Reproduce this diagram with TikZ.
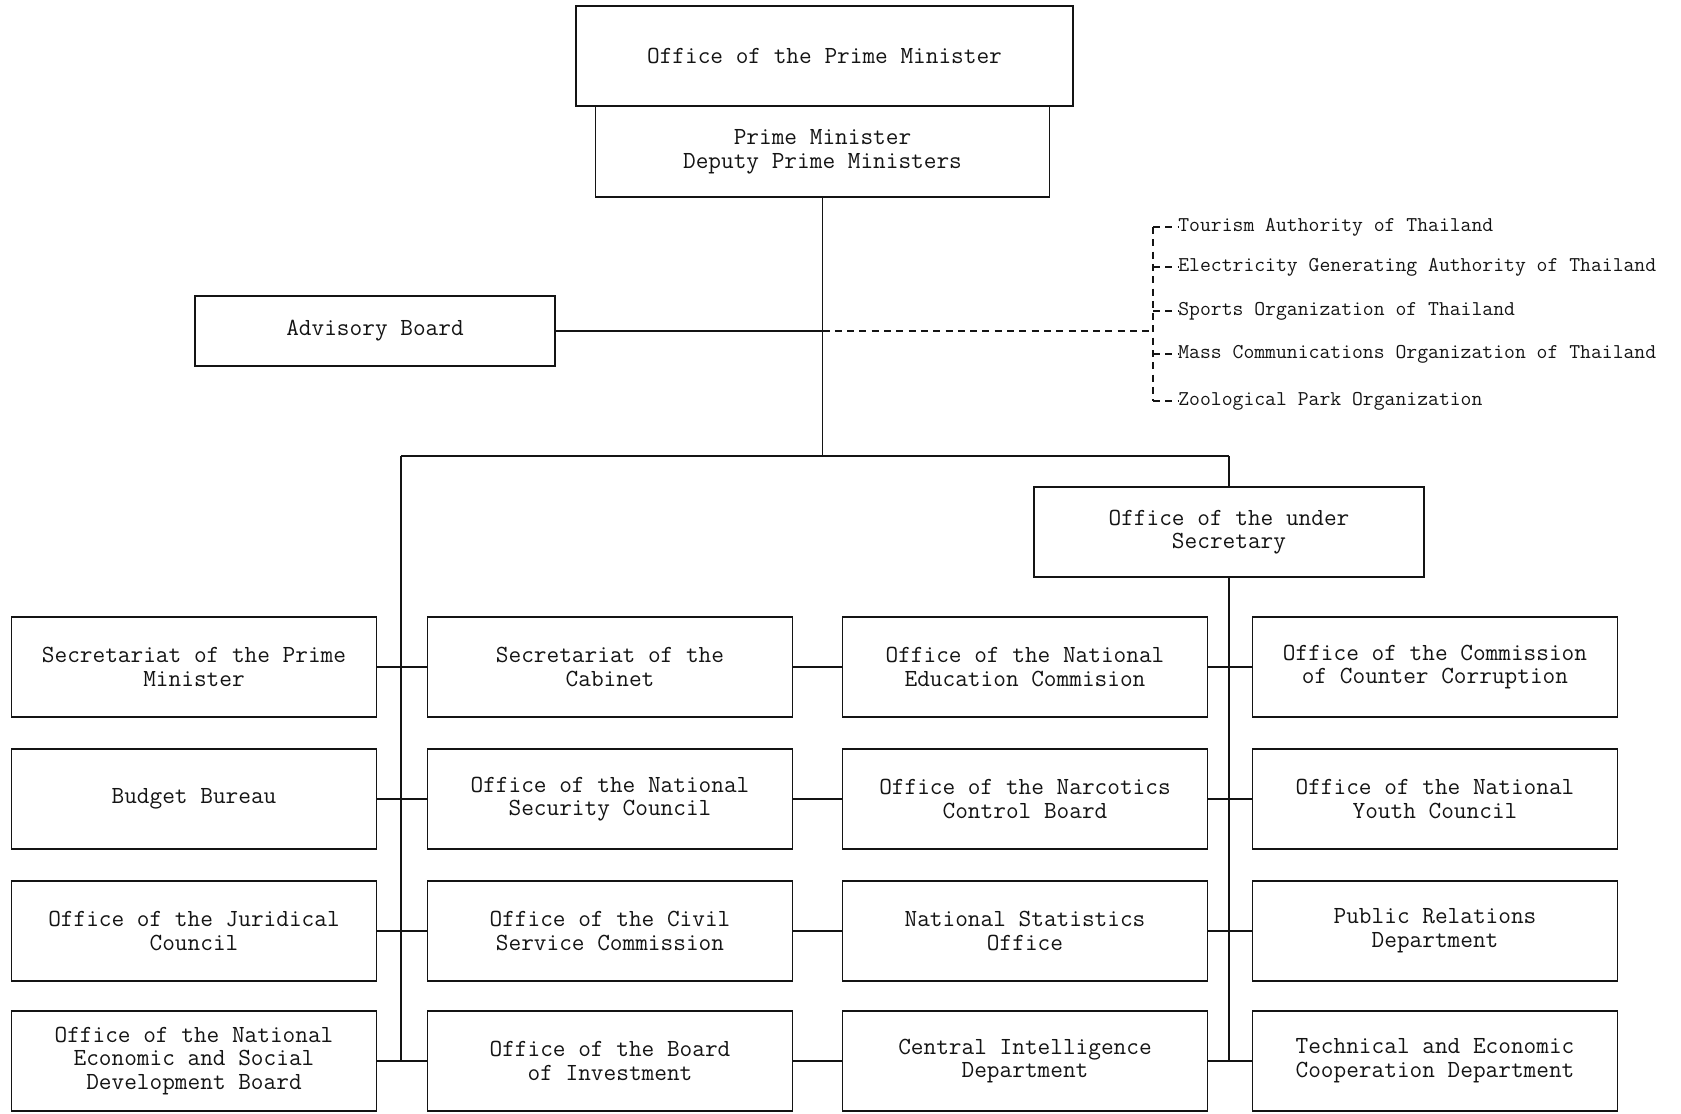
\documentclass[tikz,border=0pt]{standalone}
\usepackage{tikz}
\usetikzlibrary{positioning,calc}
\definecolor{ink}{HTML}{141414}
\definecolor{paper}{HTML}{FFFFFF}
\tikzset{
  unit/.style={draw=ink, fill=paper, line width=1.1pt, minimum width=7.3cm,
               minimum height=2.0cm, align=center, inner sep=3pt, text=ink,
               font=\ttfamily\fontsize{14}{13.5}\selectfont},
  link/.style={draw=ink, line width=0.9pt},
  dlink/.style={link, dash pattern=on 4pt off 3pt},
  enterprise/.style={anchor=west, inner sep=0pt, text=ink,
                     font=\ttfamily\fontsize{12}{12}\selectfont}
}
\begin{document}
\begin{tikzpicture}[x=1cm,y=1cm]
  \useasboundingbox (0,0) rectangle (33.62,-22.28);
  % top of the chart
  \node[unit, minimum width=9.08cm, minimum height=1.82cm] (pm) at (16.45,-3.03)
    {Prime Minister\\Deputy Prime Ministers};
  \node[unit, minimum width=9.94cm, minimum height=2.0cm] (opm) at (16.49,-1.12)
    {Office of the Prime Minister};
  \node[unit, minimum width=7.2cm, minimum height=1.4cm] (adv) at (7.5,-6.62) {Advisory Board};
  \node[unit, minimum width=7.8cm, minimum height=1.8cm] (usec) at (24.58,-10.64)
    {Office of the under\\Secretary};
  % four columns of units
  \foreach \r/\y/\ta/\tb/\tc/\td in {
    1/-13.34/{Secretariat of the Prime\\Minister}/{Secretariat of the\\Cabinet}/{Office of the National\\Education Commision}/{Office of the Commission\\of Counter Corruption},
    2/-15.98/{Budget Bureau}/{Office of the National\\Security Council}/{Office of the Narcotics\\Control Board}/{Office of the National\\Youth Council},
    3/-18.62/{Office of the Juridical\\Council}/{Office of the Civil\\Service Commission}/{National Statistics\\Office}/{Public Relations\\Department},
    4/-21.22/{Office of the National\\Economic and Social\\Development Board}/{Office of the Board\\of Investment}/{Central Intelligence\\Department}/{Technical and Economic\\Cooperation Department}} {
    \node[unit] (a\r) at (3.88,\y) {\ta};
    \node[unit] (b\r) at (12.2,\y) {\tb};
    \node[unit] (c\r) at (20.5,\y) {\tc};
    \node[unit] (d\r) at (28.7,\y) {\td};
  }
  % trunk and bus
  \coordinate (busL) at (8.02,-9.12);
  \coordinate (busR) at (24.58,-9.12);
  \draw[link] (pm.south) -- (pm.south |- busL);
  \draw[link] (busL) -- (busR);
  \draw[link] (busR) -- (usec.north);
  \draw[link] (busL) -- (busL |- a4.east);
  \draw[link] (usec.south) -- (usec.south |- d4.west);
  \draw[link] (adv.east) -- (adv.east -| pm.south);
  % links along each row
  \foreach \r in {1,...,4} {
    \draw[link] (a\r.east) -- (b\r.west) (b\r.east) -- (c\r.west) (c\r.east) -- (d\r.west);
  }
  % state enterprises
  \coordinate (brk) at (23.06,-6.62);
  \draw[dlink] (adv.east -| pm.south) -- (brk);
  \foreach \i/\y/\txt in {1/-4.54/Tourism Authority of Thailand,
                          2/-5.34/Electricity Generating Authority of Thailand,
                          3/-6.22/Sports Organization of Thailand,
                          4/-7.08/Mass Communications Organization of Thailand,
                          5/-8.02/Zoological Park Organization} {
    \node[enterprise] (t\i) at (23.56,\y) {\txt};
    \draw[dlink] (t\i.west -| brk) -- (t\i.west);
  }
  \draw[dlink] (brk |- t1.west) -- (brk |- t5.west);
\end{tikzpicture}
\end{document}
